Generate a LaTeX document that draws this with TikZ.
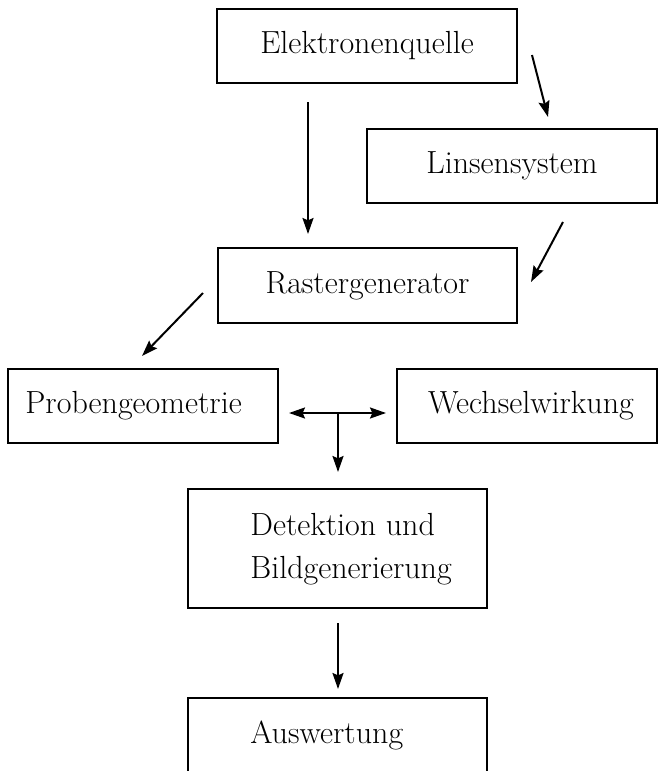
\documentclass[tikz,border=0pt]{standalone}
\usetikzlibrary{arrows.meta}
\begin{document}
\begin{tikzpicture}[x=0.5pt,y=-0.5pt,
  box/.style={draw,line width=1pt,inner sep=0pt},
  lbl/.style={font=\fontsize{16}{21.5}\selectfont,inner sep=0pt,align=left},
  arr/.style={line width=1pt,-{Stealth[length=8pt,width=5.5pt,inset=1.2pt]}},
  darr/.style={line width=1pt,{Stealth[length=8pt,width=5.5pt,inset=1.2pt]}-{Stealth[length=8pt,width=5.5pt,inset=1.2pt]}}]
\useasboundingbox (0,0) rectangle (662,771);
\clip (0,0) rectangle (662,771);
% boxes
\node[box,minimum width=150pt,minimum height=37pt] (elek) at (367,46) {};
\node[box,minimum width=145pt,minimum height=37pt] (lins) at (512,166) {};
\node[box,minimum width=149.5pt,minimum height=37.5pt] (rast) at (367.5,285.5) {};
\node[box,minimum width=135pt,minimum height=37pt] (prob) at (143,406) {};
\node[box,minimum width=130pt,minimum height=37pt] (wech) at (527,406) {};
\node[box,minimum width=149.5pt,minimum height=59.5pt] (det) at (337.5,548.5) {};
\node[box,minimum width=149.5pt,minimum height=37.5pt] (aus) at (337.5,735.5) {};
% labels
\node[lbl] (elekt) at (elek) {Elektronenquelle};
\node[lbl] (linst) at (lins) {Linsensystem};
\node[lbl] (rastt) at (rast) {Rastergenerator};
\node[lbl,anchor=west] (probt) at (25,406) {Probengeometrie};
\node[lbl] (wecht) at (531,406) {Wechselwirkung};
\node[lbl,anchor=west] (dett) at (250,549) {Detektion und\\Bildgenerierung};
\node[lbl,anchor=west] (aust) at (250,735.5) {Auswertung};
% connector ends
\coordinate (a1s) at (532,55);  \coordinate (a1e) at (548,117);
\coordinate (a2s) at (308,102); \coordinate (a2e) at (308,234);
\coordinate (a3s) at (563,222); \coordinate (a3e) at (531,282);
\coordinate (a4s) at (203,293); \coordinate (a4e) at (142,356);
\coordinate (a5l) at (289,413); \coordinate (a5r) at (386,413);
\coordinate (a5m) at (338,413); \coordinate (a5e) at (338,472);
\coordinate (a6s) at (338,623); \coordinate (a6e) at (338,689);
\draw[arr] (a1s) -- (a1e);
\draw[arr] (a2s) -- (a2e);
\draw[arr] (a3s) -- (a3e);
\draw[arr] (a4s) -- (a4e);
\draw[darr] (a5l) -- (a5r);
\draw[arr] (a5m) -- (a5e);
\draw[arr] (a6s) -- (a6e);
\end{tikzpicture}
\end{document}
